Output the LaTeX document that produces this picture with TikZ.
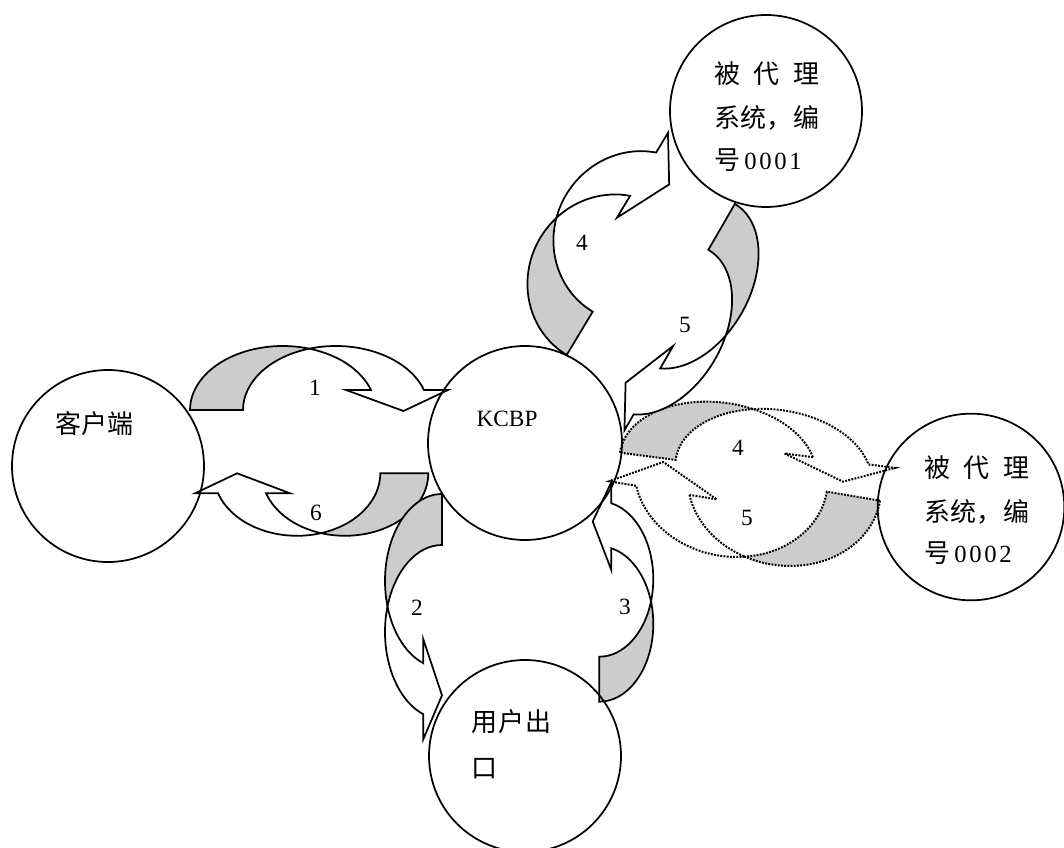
\documentclass[tikz,border=0pt]{standalone}
\usepackage{fontspec}
\setmainfont{Liberation Serif}
\newfontfamily\cjkfont{Noto Sans CJK SC}
\definecolor{shade}{RGB}{204,204,204}
\pgfkeys{/ca/.is family,
 /ca/R/.store in=\caR, /ca/ry/.store in=\caRy, /ca/t/.store in=\caT, /ca/h/.store in=\caH,
 /ca/din/.store in=\caDin, /ca/dout/.store in=\caDout, /ca/toff/.store in=\caToff, /ca/ty/.store in=\caTy}
\tikzset{
 arrowline/.style={line width=1.3pt, line join=miter, draw=black},
 dotline/.style={line width=1.5pt, dash pattern=on 1.4pt off 1.0pt},
 circ/.style={circle, draw=black, line width=1.3pt, inner sep=0pt, minimum size=#1},
 lab/.style={inner sep=0pt, font=\fontsize{17.5pt}{20pt}\selectfont},
 cjk/.style={inner sep=0pt, anchor=west, font=\fontsize{19.5pt}{22pt}\selectfont\cjkfont},
}
% curved ribbon arrow (Word style): #1 extra style, #2 placement, #3 shape keys
\newcommand\carrow[3][]{%
 \begin{scope}[#2]
 \pgfkeys{/ca/.cd, din=24, dout=24, toff=5, ty=0, #3}
 \pgfmathsetmacro\caTh{acos(\caT/(2*\caR))}
 \pgfmathsetmacro\caSt{180-\caTh}
 \pgfmathsetmacro\caPhi{asin(\caH/\caRy)}
 \pgfmathsetmacro\caXe{\caR*cos(\caPhi)}
 \pgfmathsetmacro\caXo{\caT+\caXe}
 \pgfmathsetmacro\caXi{\caXe-\caDin}
 \pgfmathsetmacro\caXb{\caXo+\caDout}
 \pgfmathsetmacro\caXt{\caXe+\caT/2+\caToff}
 \filldraw[fill=shade, arrowline, #1] (-\caR,0)
   arc[start angle=180, end angle=\caTh, x radius=\caR, y radius=\caRy]
   arc[start angle=\caSt, end angle=180, x radius=\caR, y radius=\caRy] -- cycle;
 \filldraw[fill=white, arrowline, #1] (\caXe,\caH)
   arc[start angle=\caPhi, end angle=\caTh, x radius=\caR, y radius=\caRy]
   arc[start angle=\caSt, end angle=\caPhi, x radius=\caR, y radius=\caRy]
   -- (\caXb,\caH) -- (\caXt,\caTy) -- (\caXi,\caH) -- cycle;
 \end{scope}}
\begin{document}
\begin{tikzpicture}[x=0.75pt, y=-0.75pt]
\useasboundingbox (0,0) rectangle (1064,848);
% dotted arrows (KCBP <-> 0002)
\carrow[dotline]{shift={(717.8,465.4)}, rotate=-7.4, yscale=-1}{R=98.6, ry=63, t=56, h=20.4, din=28.7, dout=27, toff=5, ty=0}
\carrow[dotline]{shift={(784.4,484.5)}, rotate=170.4, yscale=-1}{R=97, ry=81, t=54, h=26, din=27.8, dout=27.4, toff=4.3, ty=-2}
% solid arrows
\carrow{shift={(282.8,410)}, yscale=-1}{R=92.8, ry=64, t=53, h=20, din=25, dout=24, toff=6, ty=-1}
\carrow{shift={(345,473.3)}, rotate=180, yscale=-1}{R=83.3, ry=62.5, t=48, h=20, din=24, dout=23, toff=5, ty=0}
\carrow{shift={(442,581)}, rotate=90, xscale=-1, yscale=-1}{R=87, ry=57, t=51, h=18.7, din=24, dout=25, toff=6.7, ty=0}
\carrow{shift={(599.3,624)}, rotate=-90, xscale=-1, yscale=-1}{R=77.7, ry=54, t=45, h=12, din=21.7, dout=21, toff=4.3, ty=-6.6}
\carrow{shift={(611.5,280.4)}, rotate=59, yscale=-1}{R=87, ry=83, t=50.5, h=27.6, din=25.5, dout=23, toff=4.7, ty=0}
\carrow{shift={(688.9,283.5)}, rotate=240, yscale=-1}{R=91.9, ry=60.5, t=53, h=17.6, din=26, dout=18.5, toff=3.2, ty=-5.2}
% circles
\node[circ=144pt] (client) at (108,466) {};
\node[circ=145.5pt] (kcbp) at (525,443) {};
\node[circ=144pt] (p1) at (766,111) {};
\node[circ=140pt] (p2) at (971,507) {};
\node[circ=144pt] (user) at (525,756) {};
% texts
\node[cjk] (tclient) at (55,424) {客户端};
\node[lab] (tkcbp) at (507,419) {KCBP};
\node[cjk] (tp1a) at (714,74) {\makebox[78.75pt][s]{被\hfill 代\hfill 理}};
\node[cjk] (tp1b) at (714,117.5) {\makebox[78.75pt][s]{系\hfill 统\hfill ，\hfill 编}};
\node[cjk] (tp1c) at (714,160) {号\hspace{3pt}{\fontsize{18.5pt}{22pt}\selectfont\rmfamily\makebox[43pt][s]{0\hfill 0\hfill 0\hfill 1}}};
\node[cjk] (tp2a) at (924,468) {\makebox[78.75pt][s]{被\hfill 代\hfill 理}};
\node[cjk] (tp2b) at (924,512) {\makebox[78.75pt][s]{系\hfill 统\hfill ，\hfill 编}};
\node[cjk] (tp2c) at (924,553) {号\hspace{3pt}{\fontsize{18.5pt}{22pt}\selectfont\rmfamily\makebox[43pt][s]{0\hfill 0\hfill 0\hfill 2}}};
\node[cjk] (tu1) at (471,722) {\makebox[60pt][s]{用\hfill 户\hfill 出}};
\node[cjk] (tu2) at (471,769) {口};
% step numbers
\node[lab] (n1) at (315,388) {1};
\node[lab] (n6) at (316,513) {6};
\node[lab] (n2) at (417,608) {2};
\node[lab] (n3) at (625,607) {3};
\node[lab] (n4a) at (582,243) {4};
\node[lab] (n5a) at (685,325) {5};
\node[lab] (n4b) at (738,448) {4};
\node[lab] (n5b) at (747,518) {5};
\end{tikzpicture}
\end{document}
